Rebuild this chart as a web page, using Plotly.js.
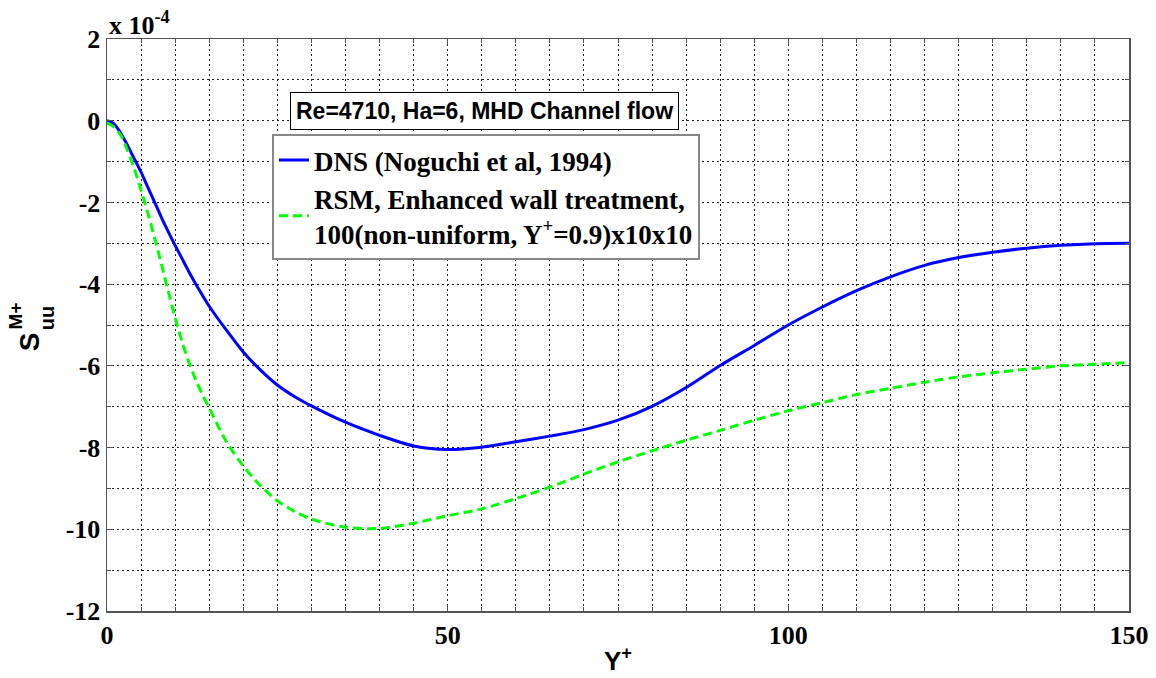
<!DOCTYPE html>
<html>
<head>
<meta charset="utf-8">
<script src="https://cdn.plot.ly/plotly-3.0.1.min.js"></script>
<style>
html,body{margin:0;padding:0;background:#fff;}
#chart{width:1156px;height:678px;}
#chart .xtick text, #chart .ytick text{font-family:"Liberation Serif","Times New Roman",serif !important;font-weight:bold !important;}
</style>
</head>
<body>
<div id="chart"></div>
<script>
// Y+ positions
const yPlus = [0,1,2,3,4,5,6,7,8,9,10,11,12,13,14,15,17.5,20,22.5,25,27.5,30,35,40,45,50,55,60,65,70,75,80,85,90,95,100,105,110,115,120,125,130,135,140,145,150];
// DNS (Noguchi et al, 1994), units of 1e-4
const dnsValues = [0,-0.07,-0.3,-0.6,-0.93,-1.26,-1.63,-2.0,-2.37,-2.72,-3.05,-3.37,-3.69,-3.99,-4.27,-4.54,-5.12,-5.66,-6.1,-6.47,-6.75,-6.98,-7.38,-7.7,-7.96,-8.05,-7.99,-7.86,-7.72,-7.56,-7.33,-6.99,-6.53,-5.99,-5.5,-5.0,-4.56,-4.16,-3.82,-3.54,-3.35,-3.22,-3.12,-3.05,-3.01,-3.0];
// RSM, Enhanced wall treatment
const rsmValues = [-0.05,-0.15,-0.35,-0.72,-1.17,-1.7,-2.27,-2.88,-3.52,-4.18,-4.82,-5.4,-5.9,-6.33,-6.7,-7.03,-7.85,-8.45,-8.93,-9.3,-9.56,-9.75,-9.95,-9.98,-9.85,-9.67,-9.5,-9.25,-8.97,-8.65,-8.35,-8.08,-7.82,-7.58,-7.33,-7.1,-6.9,-6.7,-6.55,-6.4,-6.27,-6.17,-6.08,-6.0,-5.96,-5.92];
const seriesNames = ["DNS (Noguchi et al, 1994)", "RSM, Enhanced wall treatment,<br>100(non-uniform, Y<sup>+</sup>=0.9)x10x10"];
const xTicks = [0,50,100,150];
const yTicks = [-12,-10,-8,-6,-4,-2,0,2];

const serif = "Liberation Serif";
const sans = "Liberation Sans";
const gridStyle = {gridcolor:"#222", gridwidth:1, griddash:"2px,3px"};

const traces = [
  {x:yPlus, y:dnsValues, name:seriesNames[0], type:"scatter", mode:"lines",
   line:{color:"#0000ff", width:3, shape:"spline", smoothing:0.8}},
  {x:yPlus, y:rsmValues, name:seriesNames[1], type:"scatter", mode:"lines",
   line:{color:"#00ff00", width:3, dash:"9px,5px", shape:"spline", smoothing:0.8}}
];

function axisBase(extra){
  return Object.assign({
    showgrid:true, zeroline:false, showline:true, linecolor:"#555", linewidth:1.5,
    mirror:"ticks", ticks:"inside", ticklen:6, tickcolor:"#555",
    tickfont:{family:serif, size:26, color:"#000", weight:"bold"}
  }, gridStyle, extra);
}

const layout = {
  width:1156, height:678,
  margin:{l:107, r:27, t:39, b:67},
  paper_bgcolor:"#fff", plot_bgcolor:"#fff",
  font:{family:serif, size:26, color:"#000"},
  showlegend:true,
  legend:{x:0.1614, y:0.834, xanchor:"left", yanchor:"top",
          bgcolor:"#fff", bordercolor:"#888", borderwidth:2,
          font:{family:serif, size:27, color:"#000", weight:"bold"},
          itemwidth:30, tracegroupgap:0},
  xaxis:axisBase({range:[0,150], tickmode:"array", tickvals:xTicks, ticktext:xTicks.map(v=>"<b>"+v+"</b>"),
         minor:Object.assign({dtick:5, tick0:0, showgrid:true, ticks:"inside", ticklen:4, tickcolor:"#555"}, gridStyle)}),
  yaxis:axisBase({range:[-12,2], tickmode:"array", tickvals:yTicks, ticktext:yTicks.map(v=>"<b>"+v+"</b>"),
         minor:Object.assign({dtick:1, tick0:0, showgrid:true, ticks:"inside", ticklen:4, tickcolor:"#555"}, gridStyle)}),
  annotations:[
    {xref:"paper", yref:"paper", x:0, y:1.027, xanchor:"left", yanchor:"middle", showarrow:false,
     text:"<b>x 10<sup>-4</sup></b>", font:{family:serif, size:26, color:"#000"}},
    {xref:"paper", yref:"paper", x:0.369, y:0.875, xanchor:"center", yanchor:"middle", showarrow:false,
     text:"<b>Re=4710, Ha=6, MHD Channel flow</b>", font:{family:sans, size:23, color:"#000"},
     bgcolor:"#fff", bordercolor:"#000", borderwidth:1, borderpad:5},
    {xref:"paper", yref:"paper", x:0.5, y:-0.084, xanchor:"center", yanchor:"middle", showarrow:false,
     text:"<b>Y<sup>+</sup></b>", font:{family:sans, size:26, color:"#000"}},
    {xref:"paper", yref:"paper", x:-0.0763, y:0.470, xanchor:"center", yanchor:"middle", showarrow:false,
     textangle:-90, text:"<b>S</b>", font:{family:sans, size:28, color:"#000"}},
    {xref:"paper", yref:"paper", x:-0.090, y:0.515, xanchor:"center", yanchor:"middle", showarrow:false,
     textangle:-90, text:"<b>M+</b>", font:{family:sans, size:19, color:"#000"}},
    {xref:"paper", yref:"paper", x:-0.0587, y:0.512, xanchor:"center", yanchor:"middle", showarrow:false,
     textangle:-90, text:"<b>uu</b>", font:{family:sans, size:20, color:"#000"}}
  ]
};

Plotly.newPlot("chart", traces, layout, {displayModeBar:false, staticPlot:true});
</script>
</body>
</html>
